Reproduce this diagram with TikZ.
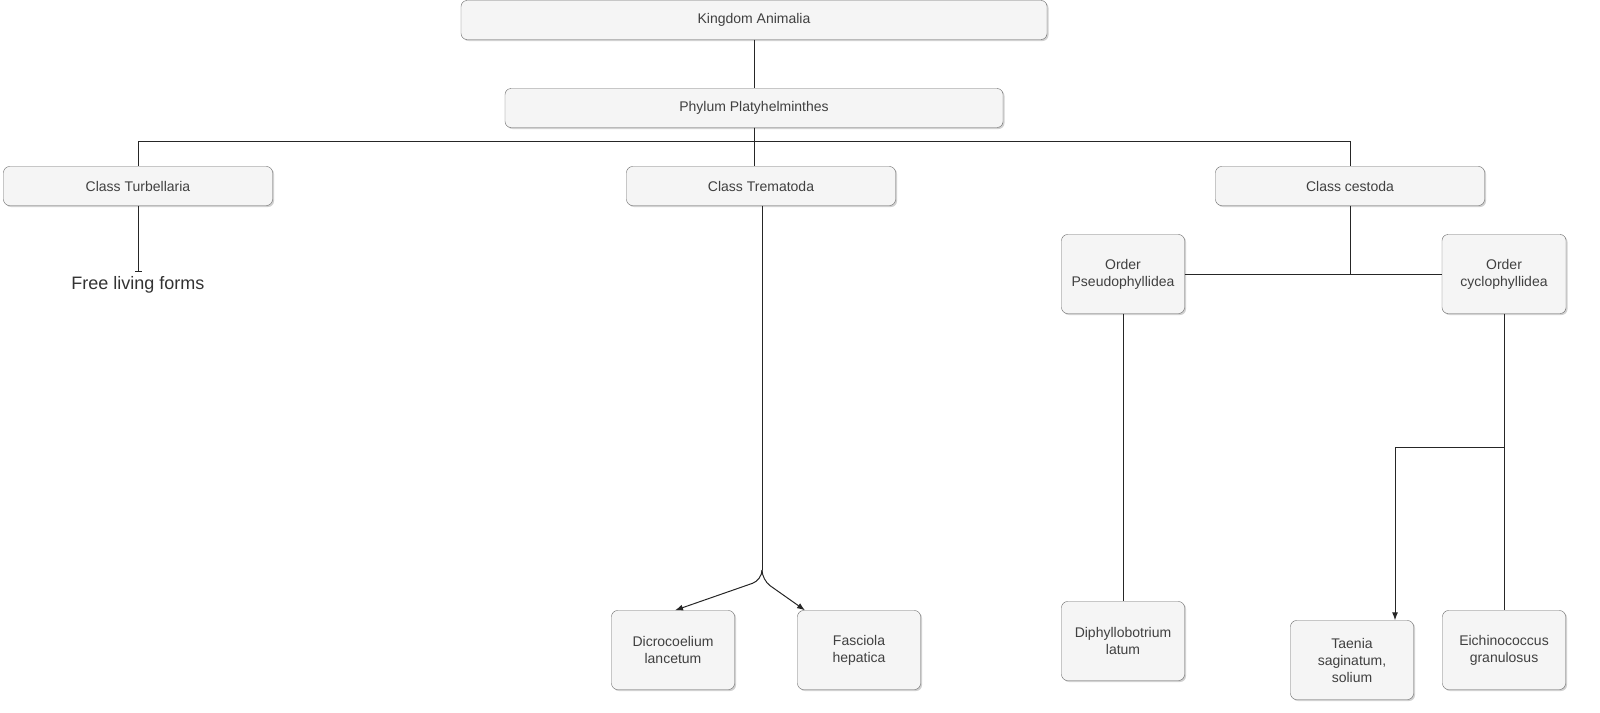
\documentclass[tikz,border=0pt]{standalone}
\usepackage{fontspec}
\setmainfont{Liberation Sans}
\usetikzlibrary{shadows, arrows.meta}
\definecolor{boxfill}{HTML}{F5F5F5}
\definecolor{boxline}{HTML}{666666}
\tikzset{
	taxon/.style={draw=boxline, fill=boxfill, rounded corners=6pt, align=center,
		font=\fontsize{14}{17}\selectfont, text=black!75, inner sep=0pt,
		drop shadow={shadow xshift=1.5pt, shadow yshift=-1.5pt, fill=black!30, opacity=.6}},
	link/.style={draw=black!85, line width=1pt},
	tip/.style={-{Latex[length=8pt, width=6pt]}}
}
\begin{document}
\begin{tikzpicture}[x=1pt, y=-1pt]
		\node[taxon, minimum width=586, minimum height=39](kingdom) at (754, 20){Kingdom Animalia};
		\node[taxon, minimum width=498, minimum height=39](phylum) at (754, 108){Phylum Platyhelminthes};
		\node[taxon, minimum width=269, minimum height=39](turb) at (138, 186){Class Turbellaria};
		\node[taxon, minimum width=269, minimum height=39](trem) at (761, 186){Class Trematoda};
		\node[taxon, minimum width=269, minimum height=39](cest) at (1350, 186){Class cestoda};
		\node[taxon, minimum width=123, minimum height=79](pseudo) at (1123, 274){Order\\Pseudophyllidea};
		\node[taxon, minimum width=124, minimum height=79](cyclo) at (1504, 274){Order\\cyclophyllidea};
		\node[taxon, minimum width=123, minimum height=79](dicro) at (673, 650){Dicrocoelium\\lancetum};
		\node[taxon, minimum width=123, minimum height=79](fasc) at (859, 650){Fasciola\\hepatica};
		\node[taxon, minimum width=123, minimum height=79](diph) at (1123, 641){Diphyllobotrium\\latum};
		\node[taxon, minimum width=123, minimum height=79](taenia) at (1352, 660){Taenia\\saginatum,\\solium};
		\node[taxon, minimum width=123, minimum height=79](eich) at (1504, 650){Eichinococcus\\granulosus};
		\node[font=\fontsize{18}{21}\selectfont, text=black!80](free) at (138, 285){Free living forms};
		\coordinate(bar) at (138, 272);
		\coordinate(split) at (762, 570);
		\coordinate(fork) at (1504, 447);
		% tree lines
		\draw[link](kingdom)--(phylum);
		\draw[link](phylum.south)--++(0, 14)-|(turb.north);
		\draw[link](phylum.south)--++(0, 14)-|(cest.north);
		\draw[link](phylum.south)--(phylum.south|-trem.north);
		\draw[link, -|](turb.south-|bar)--(bar);
		\draw[link](trem.south-|split)--(split);
		\draw[link, tip, rounded corners=10pt](split)--++(0, 10)--([xshift=2pt]dicro.north);
		\draw[link, tip, rounded corners=10pt](split)--++(0, 10)--([xshift=-54pt]fasc.north);
		\draw[link](cest.south)--(cest.south|-pseudo.east);
		\draw[link](pseudo.east)--(cyclo.west);
		\draw[link](pseudo)--(diph);
		\draw[link](cyclo)--(eich);
		\draw[link, tip](fork)-|([xshift=43pt]taenia.north);
		\pgfresetboundingbox
		\useasboundingbox(0, 0) rectangle (1600, 712);
	\end{tikzpicture}
\end{document}
